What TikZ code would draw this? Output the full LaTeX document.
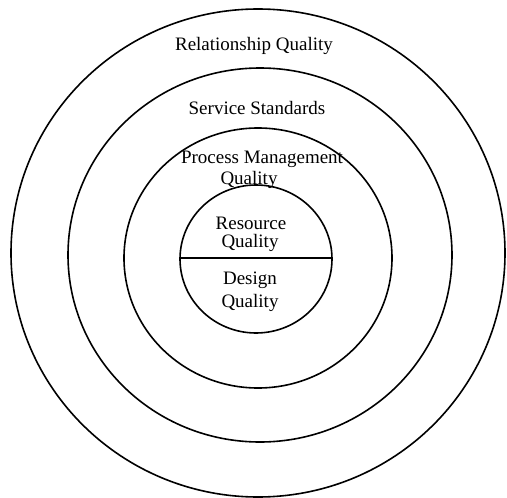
\documentclass[tikz,border=0pt]{standalone}
\usepackage{fontspec}
\setmainfont{Liberation Serif}
\usepackage{tikz}

\begin{document}
\begin{tikzpicture}[line cap=round,line join=round,x=1pt,y=-1pt,
  ring/.style={line width=1.6pt},
  lbl/.style={font=\fontsize{19}{20}\selectfont,inner sep=0pt}]
\useasboundingbox (0,0) rectangle (507,498);
% the four rings, outside in
\draw [ring] (258,253) ellipse (247 and 244);
\draw [ring] (260,255) ellipse (192 and 187);
\draw [ring] (258,258) ellipse (134 and 130);
\draw [ring] (256,259) ellipse (76 and 74);
\draw [ring] (180,258) -- (332,258);
% labels
\node [lbl] (rel) at (254,46) {Relationship Quality};
\node [lbl] (serv) at (257,108) {Service Standards};
\node [lbl] (proc) at (262,159) {Process Management};
\node [lbl] (procq) at (249,180) {Quality};
\node [lbl] (res) at (251,223) {Resource};
\node [lbl] (resq) at (250,243) {Quality};
\node [lbl] (des) at (250,280) {Design};
\node [lbl] (desq) at (250,303) {Quality};
\end{tikzpicture}
\end{document}
